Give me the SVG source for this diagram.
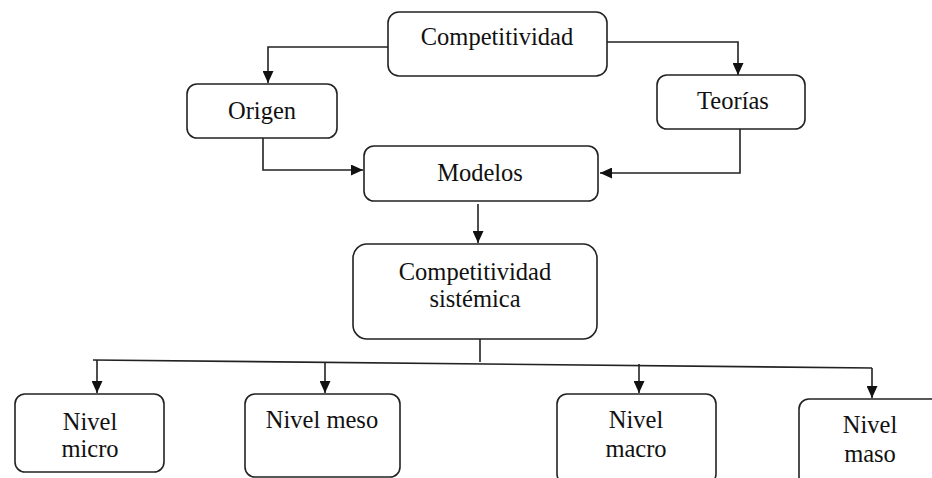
<svg xmlns="http://www.w3.org/2000/svg" width="932" height="478" viewBox="0 0 932 478">
<defs>
<marker id="ah" viewBox="0 0 12 11" refX="12" refY="5.5" markerWidth="12" markerHeight="11" markerUnits="userSpaceOnUse" orient="auto">
<path d="M0,0 L12,5.5 L0,11 Z" fill="#111"/>
</marker>
<style>
.box{fill:#fff;stroke:#222;stroke-width:1.6}
.t{font-family:"Liberation Serif","Times New Roman",serif;font-size:24.5px;fill:#111;text-anchor:middle}
.c{fill:none;stroke:#222;stroke-width:1.6}
</style>
</defs>
<rect width="932" height="478" fill="#fff"/>
<g id="connectors">
<polyline class="c" points="388,47 268,47 268,83" marker-end="url(#ah)"/>
<polyline class="c" points="607,42 738,42 738,75" marker-end="url(#ah)"/>
<polyline class="c" points="263,138 263,170 363,170" marker-end="url(#ah)"/>
<polyline class="c" points="740,129 740,173 600,173" marker-end="url(#ah)"/>
<line class="c" x1="478" y1="204" x2="478" y2="243" marker-end="url(#ah)"/>
<line class="c" x1="480" y1="339" x2="480" y2="362"/>
<line class="c" x1="93" y1="360" x2="872" y2="368"/>
<line class="c" x1="97" y1="360" x2="97" y2="393" marker-end="url(#ah)"/>
<line class="c" x1="325" y1="362" x2="325" y2="393" marker-end="url(#ah)"/>
<line class="c" x1="639" y1="364" x2="639" y2="393" marker-end="url(#ah)"/>
<line class="c" x1="872" y1="368" x2="872" y2="398" marker-end="url(#ah)"/>
</g>
<g id="competitividad">
<rect class="box" x="388" y="12" width="219" height="64" rx="11"/>
<text class="t" x="497" y="45">Competitividad</text>
</g>
<g id="origen">
<rect class="box" x="187" y="84" width="150" height="54" rx="10"/>
<text class="t" x="262" y="119">Origen</text>
</g>
<g id="teorias">
<rect class="box" x="657" y="75" width="148" height="54" rx="10"/>
<text class="t" x="733" y="109">Teorías</text>
</g>
<g id="modelos">
<rect class="box" x="364" y="146" width="234" height="55" rx="10"/>
<text class="t" x="480" y="181">Modelos</text>
</g>
<g id="sistemica">
<rect class="box" x="353" y="244" width="244" height="95" rx="14"/>
<text class="t" x="475" y="280">Competitividad</text>
<text class="t" x="475" y="307">sistémica</text>
</g>
<g id="micro">
<rect class="box" x="15" y="394" width="149" height="78" rx="10"/>
<text class="t" x="90" y="430">Nivel</text>
<text class="t" x="90" y="457">micro</text>
</g>
<g id="meso">
<rect class="box" x="245" y="394" width="155" height="83" rx="10"/>
<text class="t" x="322" y="428">Nivel meso</text>
</g>
<g id="macro">
<rect class="box" x="557" y="394" width="159" height="90" rx="10"/>
<text class="t" x="636" y="428">Nivel</text>
<text class="t" x="636" y="457">macro</text>
</g>
<g id="maso">
<rect class="box" x="799" y="399" width="142" height="90" rx="10"/>
<text class="t" x="870" y="433">Nivel</text>
<text class="t" x="870" y="462">maso</text>
</g>
</svg>
